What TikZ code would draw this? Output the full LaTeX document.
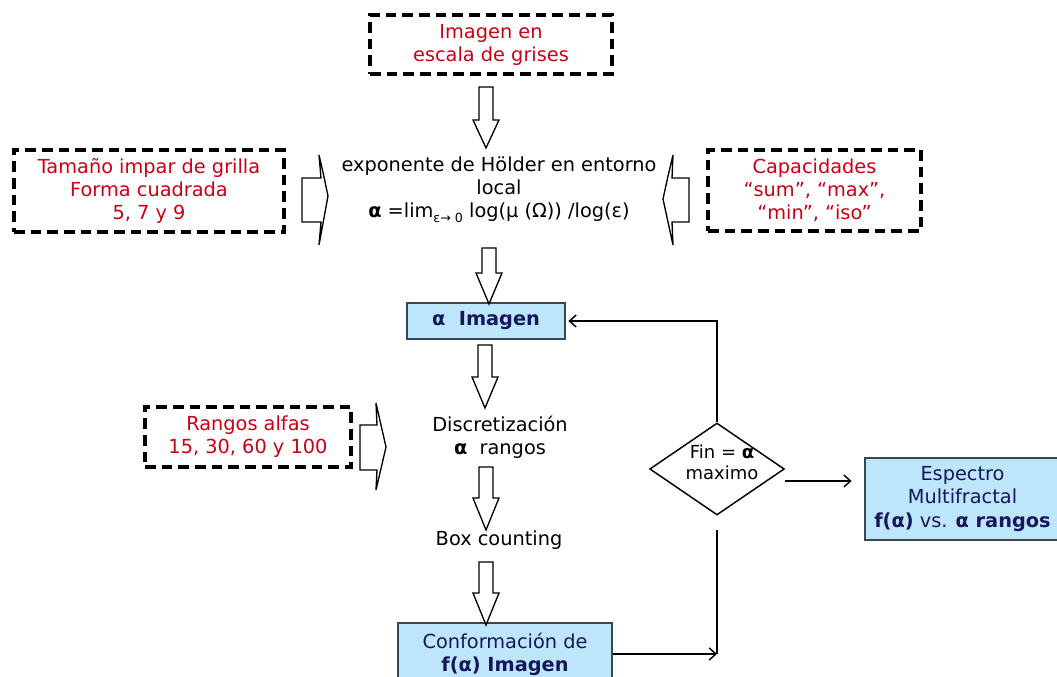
\documentclass[tikz,border=0pt]{standalone}
\usepackage{fontspec}
\setmainfont{DejaVu Sans}
\usetikzlibrary{arrows.meta,shapes.geometric}
\definecolor{myred}{RGB}{204,0,20}
\definecolor{navy}{RGB}{22,22,92}
\definecolor{lblue}{RGB}{190,230,250}
\definecolor{bordergray}{RGB}{60,70,80}
\begin{document}
\begin{tikzpicture}[x=0.75pt,y=-0.75pt,
  txt/.style={inner sep=0pt, align=center, font=\fontsize{14.5}{17.3}\selectfont},
  dashbox/.style={txt, draw=black, line width=2.3pt, dash pattern=on 8pt off 4.5pt, text=myred},
  bluebox/.style={txt, draw=bordergray, line width=1.1pt, fill=lblue, text=navy},
  blockarrow/.style={draw=black, line width=1pt, fill=white, line join=miter},
  conn/.style={draw=black, line width=1.1pt, -{Straight Barb[length=5pt,width=9pt]}},
  plain/.style={draw=black, line width=1.1pt}]
\useasboundingbox (0,0) rectangle (1057,677);

% boxes
\node[dashbox, minimum width=181.5pt, minimum height=44.25pt] (gray) at (491,44.5) {Imagen en\\escala de grises};
\node[dashbox, minimum width=202.5pt, minimum height=61.5pt] (grid) at (149,191) {Tamaño impar de grilla\\Forma cuadrada\\5, 7 y 9};
\node[dashbox, minimum width=159.75pt, minimum height=60.75pt] (cap) at (814.5,190.5) {Capacidades\\“sum”, “max”,\\“min”, “iso”};
\node[dashbox, minimum width=154.5pt, minimum height=45pt] (rng) at (248,437) {Rangos alfas\\15, 30, 60 y 100};

\node[txt] (hold) at (499,190) {exponente de Hölder en entorno\\local\\\textbf{α} =lim\raisebox{-0.45ex}{\fontsize{9.5}{9.5}\selectfont ε→ 0} log(μ (Ω)) /log(ε)};

\node[bluebox, minimum width=118.5pt, minimum height=27pt] (alpha) at (486,321) {\textbf{α\ \ Imagen}};
\node[txt] (disc) at (500,437) {Discretización\\\textbf{α}\ \ rangos};
\node[txt] (box) at (499,540) {Box counting};
\node[bluebox, minimum width=160.5pt, minimum height=46.5pt] (conf) at (505,654) {Conformación de\\\textbf{f(α) Imagen}};
\node[diamond, draw=black, line width=1.1pt, minimum width=101pt, minimum height=69pt, inner sep=0pt] (dia) at (717,469) {};
\node[txt, font=\fontsize{13.5}{16}\selectfont] (diat) at (722,462) {Fin = \textbf{α}\\maximo};
\node[bluebox, minimum width=146.25pt, minimum height=61.5pt] (esp) at (962.5,499) {Espectro\\Multifractal\\\textbf{f(α)} vs. \textbf{α rangos}};

% block arrows (down)
\foreach \cx/\ya/\yb/\yc in {486/87/120/148, 489/248/273/304, 485/345/377/408, 486/467/498/530, 486/562/593/625}{
  \draw[blockarrow] (\cx-7,\ya) -- (\cx+7,\ya) -- (\cx+7,\yb) -- (\cx+13,\yb) -- (\cx,\yc) -- (\cx-13,\yb) -- (\cx-7,\yb) -- cycle;
}
% side block arrows
\draw[blockarrow] (302,178) -- (321,178) -- (319,155) .. controls (323,172) .. (328,196) .. controls (323,220) .. (319,245) -- (321,222) -- (302,222) -- cycle;
\draw[blockarrow] (689,178) -- (672,178) -- (673,155) .. controls (668,176) .. (663,199) .. controls (668,222) .. (673,245) -- (672,222) -- (689,222) -- cycle;
\draw[blockarrow] (360,425) -- (377,425) -- (376,403) .. controls (381,425) .. (386,447) .. controls (381,469) .. (376,490) -- (377,470) -- (360,470) -- cycle;

% connectors
\coordinate (dtop) at (717,422);
\draw[conn, shorten >=2pt] (dtop) |- (alpha.east);
\coordinate (dout) at (785,481);
\draw[conn, shorten >=9.5pt] (dout) -- (esp.west |- dout);
\coordinate (vtop) at (717,530);
\coordinate (corner) at (717,654);
\draw[plain] (vtop) -- (corner);
\draw[conn] (conf.east) -- (corner);
\end{tikzpicture}
\end{document}
